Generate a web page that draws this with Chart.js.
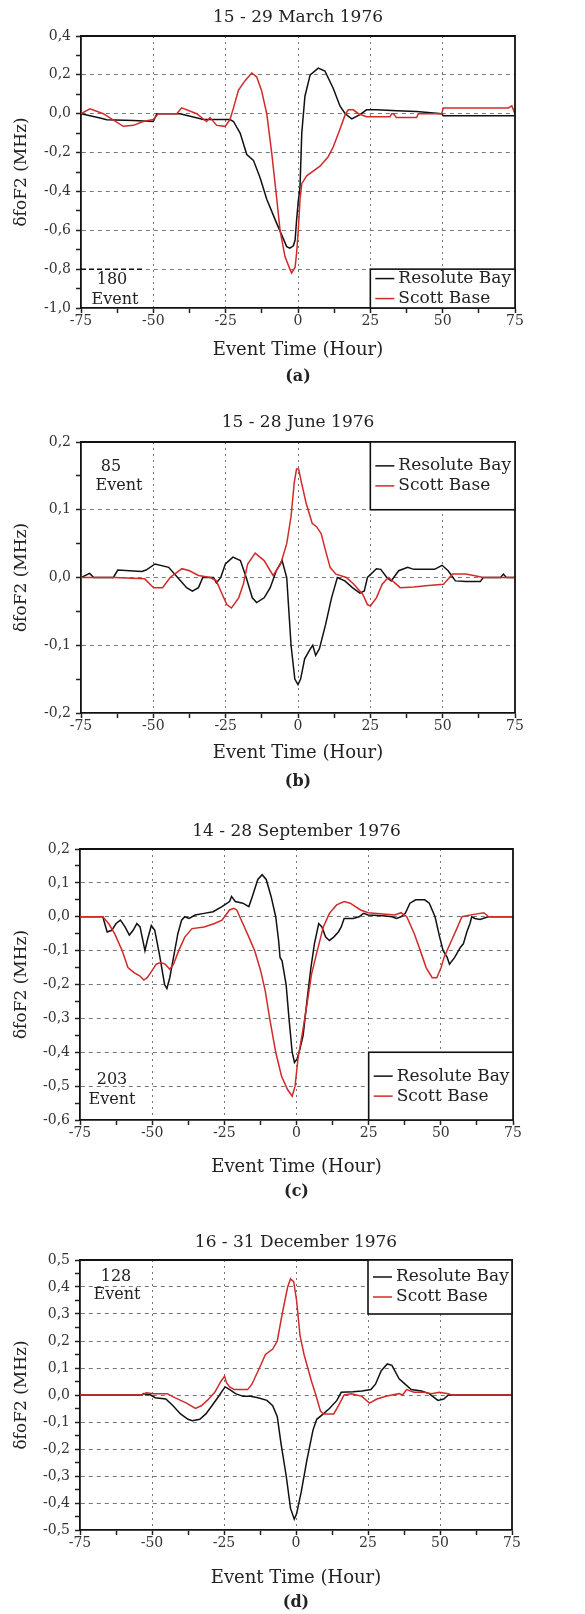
<!DOCTYPE html>
<html><head><meta charset="utf-8">
<script src="https://cdn.jsdelivr.net/npm/chart.js@4.4.0/dist/chart.umd.min.js"></script>
<style>
html,body{margin:0;padding:0;background:#fff;}
body{width:585px;height:1614px;position:relative;overflow:hidden;}
.panel{position:absolute;left:0;width:585px;}
canvas{display:block;}
</style></head><body>
<div class="panel" id="pa"><canvas id="ca"></canvas></div>
<div class="panel" id="pb"><canvas id="cb"></canvas></div>
<div class="panel" id="pc"><canvas id="cc"></canvas></div>
<div class="panel" id="pd"><canvas id="cd"></canvas></div>
<script>
// ---------------- DATA ----------------
const seriesNames = ['Resolute Bay', 'Scott Base'];
const panelTitles = ['15 - 29 March 1976', '15 - 28 June 1976', '14 - 28 September 1976', '16 - 31 December 1976'];
const panelCaptions = ['(a)', '(b)', '(c)', '(d)'];
const eventCounts = ['180', '85', '203', '128'];

// (a) March
const hMarRB = [-75,-68.4,-66.1,-56.9,-50.0,-48.8,-40.8,-32.7,-23.5,-22.3,-20.0,-17.7,-15.4,-13.1,-10.8,-7.4,-3.9,-2.8,-1.6,-1.0,-0.5,0.1,0.7,1.3,2.4,4.2,7.0,9.3,12.2,14.5,16.3,18.6,21.4,23.7,27.2,34.1,41.0,49.7,50.2,75];
const vMarRB = [0,-0.022,-0.031,-0.035,-0.04,0,0,-0.03,-0.03,-0.04,-0.10,-0.21,-0.24,-0.33,-0.44,-0.563,-0.684,-0.692,-0.68,-0.65,-0.55,-0.45,-0.375,-0.10,0.09,0.20,0.235,0.22,0.13,0.04,0.0,-0.027,-0.005,0.02,0.02,0.015,0.012,0.0,-0.01,-0.01];
const hMarSB = [-75,-71.9,-67.3,-60.4,-56.9,-53.5,-50.0,-48.3,-41.9,-40.2,-35.0,-31.6,-30.4,-28.1,-25.2,-23.5,-22.3,-20.6,-18.3,-16.0,-14.3,-12.6,-10.8,-9.1,-7.4,-6.2,-4.5,-2.8,-2.2,-1.0,-0.5,0.1,0.7,1.3,3.0,7.6,10.5,12.2,14.5,16.3,17.4,19.1,20.9,23.7,31.8,32.4,33.0,34.0,34.7,41.0,41.6,49.7,50.2,72.7,73.9,75];
const vMarSB = [0,0.025,0,-0.065,-0.06,-0.04,-0.03,0,0,0.03,0,-0.04,-0.02,-0.06,-0.065,-0.03,0.03,0.12,0.17,0.21,0.19,0.12,0,-0.2,-0.43,-0.6,-0.735,-0.80,-0.82,-0.79,-0.72,-0.6,-0.44,-0.36,-0.32,-0.27,-0.22,-0.17,-0.08,-0.005,0.02,0.02,0,-0.015,-0.015,0,0,-0.02,-0.02,-0.02,0,0,0.03,0.03,0.04,0.0];

// (b) June
const hJunRB = [-75,-72,-70.6,-63.8,-62.3,-54,-52.5,-49.4,-44.7,-41.6,-38.5,-36.5,-34.4,-32.9,-29.2,-28.2,-26.7,-25.1,-22.5,-19.9,-17.9,-15.8,-14.3,-11.7,-9.6,-7.5,-5.5,-3.9,-2.4,-1.1,0,0.9,2.3,4.3,5.1,6.1,7.4,9.5,11.6,13.6,16.2,18.8,21.4,22.9,24,27.1,28.6,30.7,32.2,34.8,37.9,40,47.2,49.8,51.9,54.4,58,63,64,70,71,72,75];
const vJunRB = [0,0.006,0,0,0.011,0.009,0.011,0.02,0.015,0,-0.015,-0.02,-0.015,0,0,-0.008,0,0.02,0.03,0.025,0,-0.03,-0.037,-0.03,-0.015,0.01,0.025,0,-0.1,-0.15,-0.158,-0.15,-0.12,-0.105,-0.1,-0.115,-0.105,-0.07,-0.03,0,-0.005,-0.015,-0.023,-0.02,0,0.013,0.012,0,-0.005,0.01,0.015,0.012,0.012,0.018,0.01,-0.005,-0.006,-0.006,0,0,0.005,0,0];
const hJunSB = [-75,-63.4,-53,-49.9,-46.8,-44.2,-40.1,-37.5,-34.4,-30.3,-28.2,-26.7,-24.6,-23,-20.5,-18.9,-17.4,-14.8,-11.7,-8.6,-6,-3.9,-2.4,-1.3,-0.5,0.2,1.2,2.8,4.9,6.4,8,9.5,11.1,13.1,16.7,19.3,22.4,24,25,27.1,29.1,31.2,32.7,35.3,40,44.1,50.3,51.3,53.4,58,62,64,75];
const vJunSB = [0,0,-0.002,-0.015,-0.015,0,0.013,0.01,0.003,0,-0.005,-0.02,-0.04,-0.045,-0.03,-0.01,0.02,0.036,0.025,0.003,0.02,0.05,0.09,0.14,0.16,0.16,0.14,0.11,0.08,0.075,0.065,0.04,0.015,0.005,0,-0.01,-0.025,-0.04,-0.042,-0.03,-0.01,0,-0.005,-0.015,-0.014,-0.012,-0.01,-0.005,0.005,0.005,0.002,0,0];

// (c) September
const hSepRB = [-75,-67.1,-65.6,-64,-62.5,-61,-59.4,-57.9,-56.6,-55.3,-54.2,-52.5,-51.7,-50.3,-49.1,-47.5,-45.7,-44.9,-43.9,-42.4,-41.1,-39.8,-38.7,-37.2,-35.1,-32,-28.9,-25.8,-23.2,-22.5,-21.2,-18.6,-16.5,-15.3,-13.4,-11.9,-10.5,-8.8,-7.2,-6.2,-5.7,-5,-3.6,-2.6,-1.5,-0.7,0.2,1.2,2.3,3.6,5,6.2,7.7,8.8,10.1,11.4,12.9,14.5,15.5,16.5,19.6,21.7,23.2,24.8,30,33.1,34.6,36.2,37.7,39.3,41.3,44.4,46,48,49.6,50.8,52.2,53,54.8,56.8,57.8,59,60.1,60.7,61.8,63.6,66.4,75];
const vSepRB = [0,0,-0.045,-0.04,-0.02,-0.01,-0.03,-0.054,-0.04,-0.02,-0.03,-0.1,-0.07,-0.026,-0.04,-0.11,-0.2,-0.212,-0.18,-0.11,-0.05,-0.01,0,-0.005,0.005,0.01,0.015,0.03,0.045,0.06,0.045,0.04,0.03,0.06,0.11,0.124,0.11,0.06,0,-0.07,-0.12,-0.13,-0.2,-0.3,-0.4,-0.43,-0.42,-0.39,-0.35,-0.25,-0.15,-0.08,-0.02,-0.03,-0.06,-0.07,-0.06,-0.045,-0.03,-0.005,-0.005,0,0.01,0.005,0.003,0,-0.005,0,0.01,0.04,0.05,0.05,0.04,0,-0.06,-0.1,-0.12,-0.14,-0.12,-0.09,-0.08,-0.045,-0.02,0,-0.005,-0.008,0,0];
const hSepSB = [-75,-67.1,-65.1,-63,-60.4,-58.4,-56.3,-54.2,-52.9,-51.7,-50.1,-48.6,-47,-45.5,-43.9,-42.6,-40.8,-38.7,-36.2,-32,-28.4,-25.8,-23.2,-21.7,-20.7,-18.6,-16.5,-14.5,-12.4,-10.8,-9.3,-7.2,-5.2,-3.1,-1.5,-0.5,0.5,2.1,3.6,5.2,7.2,9.3,11.4,13.9,16.5,18.6,22.2,24.8,30,34.1,36.2,38.2,40.8,42.9,44.9,47,48.6,50.1,51.1,53.7,55.8,57.3,61.4,64.9,66.6,75];
const vSepSB = [0,0,-0.02,-0.05,-0.1,-0.15,-0.165,-0.175,-0.187,-0.18,-0.16,-0.14,-0.135,-0.14,-0.155,-0.14,-0.1,-0.06,-0.035,-0.03,-0.02,-0.01,0.02,0.025,0.02,-0.02,-0.06,-0.1,-0.16,-0.22,-0.3,-0.4,-0.47,-0.51,-0.53,-0.5,-0.42,-0.34,-0.26,-0.17,-0.1,-0.03,0.01,0.035,0.045,0.04,0.02,0.012,0.008,0.005,0.012,0,-0.05,-0.1,-0.15,-0.18,-0.18,-0.15,-0.12,-0.07,-0.03,0,0.007,0.012,0,0];

// (d) December
const hDecRB = [-75,-53.5,-53,-50.4,-48.9,-45.2,-42.7,-40.1,-37.5,-36,-33.4,-31.3,-29.2,-27.2,-25.6,-24.6,-23,-21,-18.4,-15.8,-13.2,-10.1,-8.1,-6.5,-5.2,-3.4,-1.9,-0.6,0.2,1.8,3.8,5.9,7.2,9.5,11.6,14.2,15.7,19.8,22.9,26,27.6,29.6,31.7,33.3,35.8,37.4,40,43.6,46.2,49.3,51.3,52.9,75];
const vDecRB = [0,0,0.005,0,-0.01,-0.015,-0.04,-0.07,-0.09,-0.095,-0.09,-0.07,-0.04,-0.01,0.015,0.03,0.02,0.005,-0.005,-0.005,-0.01,-0.02,-0.04,-0.08,-0.18,-0.3,-0.42,-0.46,-0.44,-0.36,-0.24,-0.13,-0.09,-0.07,-0.05,-0.02,0.01,0.012,0.015,0.02,0.04,0.09,0.115,0.11,0.06,0.045,0.02,0.015,0.005,-0.02,-0.015,0,0];
const hDecSB = [-75,-53.5,-52,-49.4,-44.7,-42.1,-38,-34.9,-32.9,-30.8,-28.2,-26.1,-24.8,-24.1,-23,-21.5,-16.8,-15.3,-12.7,-10.6,-8.1,-6.5,-4.8,-2.9,-1.9,-0.8,0.2,1.4,2.8,4.1,5.4,6.9,8.5,9.5,13.1,14.7,16.7,19.3,22.9,25.5,28.1,31.2,33.3,35.8,37,38.4,41,44.6,47,49.8,52.9,54,75];
const vDecSB = [0,0,0.008,0.005,0.005,-0.01,-0.03,-0.05,-0.04,-0.02,0.01,0.05,0.07,0.045,0.03,0.02,0.02,0.04,0.1,0.15,0.17,0.2,0.3,0.4,0.43,0.42,0.35,0.22,0.15,0.1,0.05,0,-0.06,-0.07,-0.07,-0.04,0,0.005,-0.005,-0.03,-0.015,-0.005,0,0.005,0,0.02,0.01,0.01,0.005,0.01,0.005,0,0];

// axis ranges (min, max, minor step, major step)
const yRanges = [[-1.0, 0.4, 0.1, 0.2], [-0.2, 0.2, 0.05, 0.1], [-0.6, 0.2, 0.05, 0.1], [-0.5, 0.5, 0.05, 0.1]];
const xRange = [-75, 75, 12.5, 25];
// legend boxes in data units: [x left, y top, y bottom]
const legendBoxes = [[25, -0.8, -1.0], [25, 0.2, 0.1], [25, -0.4, -0.6], [25, 0.5, 0.3]];

// ---------------- LAYOUT (page pixels) ----------------
const FONT = "'DejaVu Serif', 'Liberation Serif', serif";
const RED = '#d22a2a';
const BLACK = '#111';
const layouts = [
  {L:81, R:515, T:36,   B:308,  titleY:18,   axisTitleY:350,  captionY:377,  top:0,    bottom:392,
   notes:[[112,280],[115,300]], noteLine:{x1:81, x2:142, v:-0.8}},
  {L:81, R:515, T:442,  B:713,  titleY:423,  axisTitleY:753,  captionY:782,  top:406,  bottom:796,
   notes:[[111,467],[119,486]]},
  {L:80, R:513, T:849,  B:1120, titleY:832,  axisTitleY:1167, captionY:1192, top:813,  bottom:1206,
   notes:[[112,1080],[112,1100]]},
  {L:80, R:512, T:1260, B:1530, titleY:1243, axisTitleY:1578, captionY:1603, top:1224, bottom:1614,
   notes:[[116,1277],[117,1295]]}
];
const seriesData = [
  [[hMarRB, vMarRB], [hMarSB, vMarSB]],
  [[hJunRB, vJunRB], [hJunSB, vJunSB]],
  [[hSepRB, vSepRB], [hSepSB, vSepSB]],
  [[hDecRB, vDecRB], [hDecSB, vDecSB]]
];

function pts(h, v) { return h.map((x, i) => ({x: x, y: v[i]})); }
function isMult(v, step) { const r = v / step; return Math.abs(r - Math.round(r)) < 1e-6; }
function fmtY(v) {
  let r = Math.round(v * 100) / 100;
  if (Math.abs(r) < 1e-9) r = 0;
  return r.toFixed(1).replace('.', ',');
}

function build(idx, canvasId, panelId) {
  const g = layouts[idx];
  const [ymin, ymax, ystep, ymajor] = yRanges[idx];
  const H = g.bottom - g.top;
  const canvas = document.getElementById(canvasId);
  canvas.width = 585; canvas.height = H;
  canvas.style.width = '585px'; canvas.style.height = H + 'px';
  document.getElementById(panelId).style.top = g.top + 'px';

  const titleLH = 17 * 1.2;
  const tPadTop = g.titleY - g.top - titleLH / 2;
  const tPadBot = (g.T - g.top) - tPadTop - titleLH;
  const axLH = 18 * 1.2;
  const xScaleBottom = g.axisTitleY + axLH / 2;
  const xh = xScaleBottom - g.B;
  const padBottom = g.bottom - xScaleBottom;
  const yTitleLH = 17 * 1.2;
  const yTitlePad = 22 - yTitleLH / 2;

  const decor = {
    id: 'decor' + idx,
    afterDatasetsDraw(chart) {
      const {ctx, chartArea: a, scales: {x, y}} = chart;
      ctx.save();
      // frame top & right
      ctx.strokeStyle = BLACK; ctx.lineWidth = 1.8; ctx.setLineDash([]);
      ctx.beginPath();
      ctx.moveTo(a.left, a.top); ctx.lineTo(a.right, a.top); ctx.lineTo(a.right, a.bottom);
      ctx.stroke();
      // legend
      const lb = legendBoxes[idx];
      const lx = x.getPixelForValue(lb[0]);
      const ly1 = y.getPixelForValue(lb[1]);
      const ly2 = y.getPixelForValue(lb[2]);
      ctx.fillStyle = '#fff';
      ctx.fillRect(lx, ly1, a.right - lx, ly2 - ly1);
      ctx.strokeStyle = BLACK; ctx.lineWidth = 1.6;
      ctx.strokeRect(lx, ly1, a.right - lx, ly2 - ly1);
      const cy = (ly1 + ly2) / 2;
      const order = [0, 1];
      order.forEach((i, k) => {
        const ds = chart.data.datasets[i];
        const yy = cy + (k - 0.5) * 20;
        ctx.strokeStyle = ds.borderColor; ctx.lineWidth = 1.5;
        ctx.beginPath(); ctx.moveTo(lx + 5, yy); ctx.lineTo(lx + 24, yy); ctx.stroke();
        ctx.fillStyle = '#222';
        ctx.font = '17px ' + FONT;
        ctx.textBaseline = 'middle'; ctx.textAlign = 'left';
        ctx.fillText(ds.label, lx + 28, yy);
      });
      // event note
      ctx.fillStyle = '#222';
      ctx.font = '16px ' + FONT;
      ctx.textAlign = 'center'; ctx.textBaseline = 'middle';
      ctx.fillText(eventCounts[idx], g.notes[0][0], g.notes[0][1] - g.top);
      ctx.fillText('Event', g.notes[1][0], g.notes[1][1] - g.top);
      if (g.noteLine) {
        const py = y.getPixelForValue(g.noteLine.v);
        ctx.strokeStyle = BLACK; ctx.lineWidth = 1.5; ctx.setLineDash([5, 3]);
        ctx.beginPath(); ctx.moveTo(g.noteLine.x1, py); ctx.lineTo(g.noteLine.x2, py); ctx.stroke();
        ctx.setLineDash([]);
      }
      // caption
      ctx.font = 'bold 16px ' + FONT;
      ctx.fillStyle = '#222';
      ctx.fillText(panelCaptions[idx], (a.left + a.right) / 2, g.captionY - g.top);
      ctx.restore();
    }
  };

  const [rb, sb] = seriesData[idx];
  return new Chart(canvas, {
    type: 'line',
    data: {
      datasets: [
        {label: seriesNames[0], data: pts(rb[0], rb[1]), borderColor: BLACK, borderWidth: 1.5, pointRadius: 0, tension: 0, fill: false, order: 1},
        {label: seriesNames[1], data: pts(sb[0], sb[1]), borderColor: RED, borderWidth: 1.5, pointRadius: 0, tension: 0, fill: false, order: 0}
      ]
    },
    options: {
      responsive: false, animation: false, devicePixelRatio: 1,
      events: [],
      layout: {padding: {left: 0, right: 585 - g.R, top: 0, bottom: padBottom}},
      plugins: {
        legend: {display: false},
        tooltip: {enabled: false},
        title: {display: true, text: panelTitles[idx], fullSize: false, color: '#222',
                font: {family: FONT, size: 17, weight: 'normal', lineHeight: 1.2},
                padding: {top: tPadTop, bottom: tPadBot}}
      },
      scales: {
        x: {
          type: 'linear', min: xRange[0], max: xRange[1],
          afterFit: s => { s.height = xh; },
          ticks: {stepSize: xRange[2], autoSkip: false, maxRotation: 0, minRotation: 0, padding: 0,
                  color: '#333', font: {family: FONT, size: 14},
                  callback: v => isMult(v, xRange[3]) ? String(Math.round(v)) : ''},
          grid: {color: c => (c.tick && isMult(c.tick.value, xRange[3]) && Math.abs(c.tick.value) < 74) ? '#777' : 'rgba(0,0,0,0)',
                 lineWidth: 1, tickLength: 5, tickColor: '#222', tickWidth: 1.5, drawTicks: true},
          border: {display: true, color: BLACK, width: 1.8, dash: [2, 4]},
          title: {display: true, text: 'Event Time (Hour)', color: '#222', font: {family: FONT, size: 18, lineHeight: 1.2}, padding: 0}
        },
        y: {
          type: 'linear', min: ymin, max: ymax,
          afterFit: s => { s.width = g.L; },
          ticks: {stepSize: ystep, autoSkip: false, padding: 5, color: '#333', font: {family: FONT, size: 14},
                  callback: v => isMult(v, ymajor) ? fmtY(v) : ''},
          grid: {color: c => (c.tick && isMult(c.tick.value, ymajor) && c.tick.value < ymax - 1e-6 && c.tick.value > ymin + 1e-6) ? '#777' : 'rgba(0,0,0,0)',
                 lineWidth: 1, tickLength: 5, tickColor: '#222', tickWidth: 1.5, drawTicks: true},
          border: {display: true, color: BLACK, width: 1.8, dash: [4, 4]},
          title: {display: true, text: 'δfoF2 (MHz)', color: '#222', font: {family: FONT, size: 17, lineHeight: 1.2},
                  padding: {top: yTitlePad, bottom: 0}}
        }
      }
    },
    plugins: [decor]
  });
}

build(0, 'ca', 'pa');
build(1, 'cb', 'pb');
build(2, 'cc', 'pc');
build(3, 'cd', 'pd');
</script>
</body></html>
